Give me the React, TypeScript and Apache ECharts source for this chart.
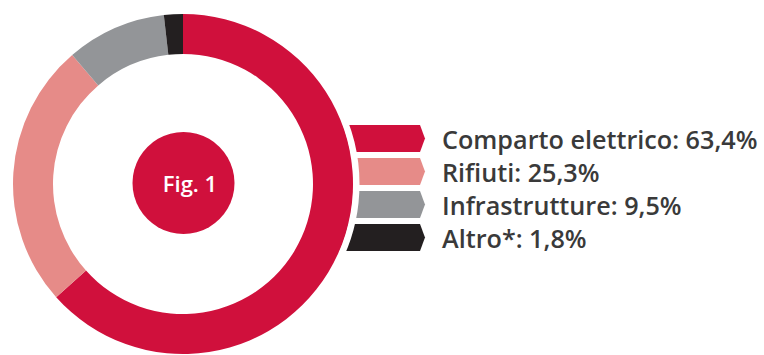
import React, { useEffect, useRef } from "react";
import * as echarts from "echarts";

const categories = ["Comparto elettrico", "Rifiuti", "Infrastrutture", "Altro*"];
const values = [63.4, 25.3, 9.5, 1.8];
const valueLabels = ["63,4%", "25,3%", "9,5%", "1,8%"];
const colors = ["#d0103c", "#e68b88", "#939598", "#231f20"];
const centerLabel = "Fig. 1";

export default function App() {
  const ref = useRef<HTMLDivElement>(null);
  useEffect(() => {
    if (!ref.current) return;
    const chart = echarts.init(ref.current, null, { renderer: "svg" });
    const cx = 183;
    const cy = 184;
    chart.setOption({
      animation: false,
      backgroundColor: "#ffffff",
      color: colors,
      legend: {
        orient: "vertical",
        left: 338,
        top: 125,
        padding: 0,
        z: 1,
        itemWidth: 87,
        itemHeight: 27,
        itemGap: 6,
        symbolKeepAspect: false,
        icon: "path://M0,0 L82,0 L87,13.5 L82,27 L0,27 Z",
        selectedMode: false,
        data: categories,
        formatter: (name: string) => {
          const i = categories.indexOf(name);
          return name + ": " + valueLabels[i];
        },
        textStyle: {
          fontFamily: "Open Sans",
          fontWeight: 600,
          fontSize: 25.2,
          color: "#3a3a3a",
          padding: [0, 0, 0, 12],
        },
      },
      graphic: [
        {
          type: "circle",
          z: 2,
          shape: { cx, cy, r: 173 },
          style: { fill: "none", stroke: "#ffffff", lineWidth: 7 },
        },
        {
          type: "circle",
          z: 10,
          shape: { cx: 183.5, cy: 183, r: 51 },
          style: { fill: colors[0] },
        },
        {
          type: "text",
          z: 11,
          x: 190,
          y: 183,
          style: {
            text: centerLabel,
            fill: "#ffffff",
            font: "600 22px 'Open Sans'",
            align: "center",
            verticalAlign: "middle",
          },
        },
      ],
      series: [
        {
          type: "pie",
          z: 3,
          center: [cx, cy],
          radius: [130, 170],
          startAngle: 90,
          clockwise: true,
          label: { show: false },
          labelLine: { show: false },
          emphasis: { disabled: true },
          itemStyle: { borderWidth: 0 },
          data: categories.map((name, i) => ({ name, value: values[i] })),
        },
      ],
    });
    return () => chart.dispose();
  }, []);
  return (
    <div
      ref={ref}
      style={{ position: "fixed", left: 0, top: 0, width: 764, height: 355 }}
    />
  );
}
